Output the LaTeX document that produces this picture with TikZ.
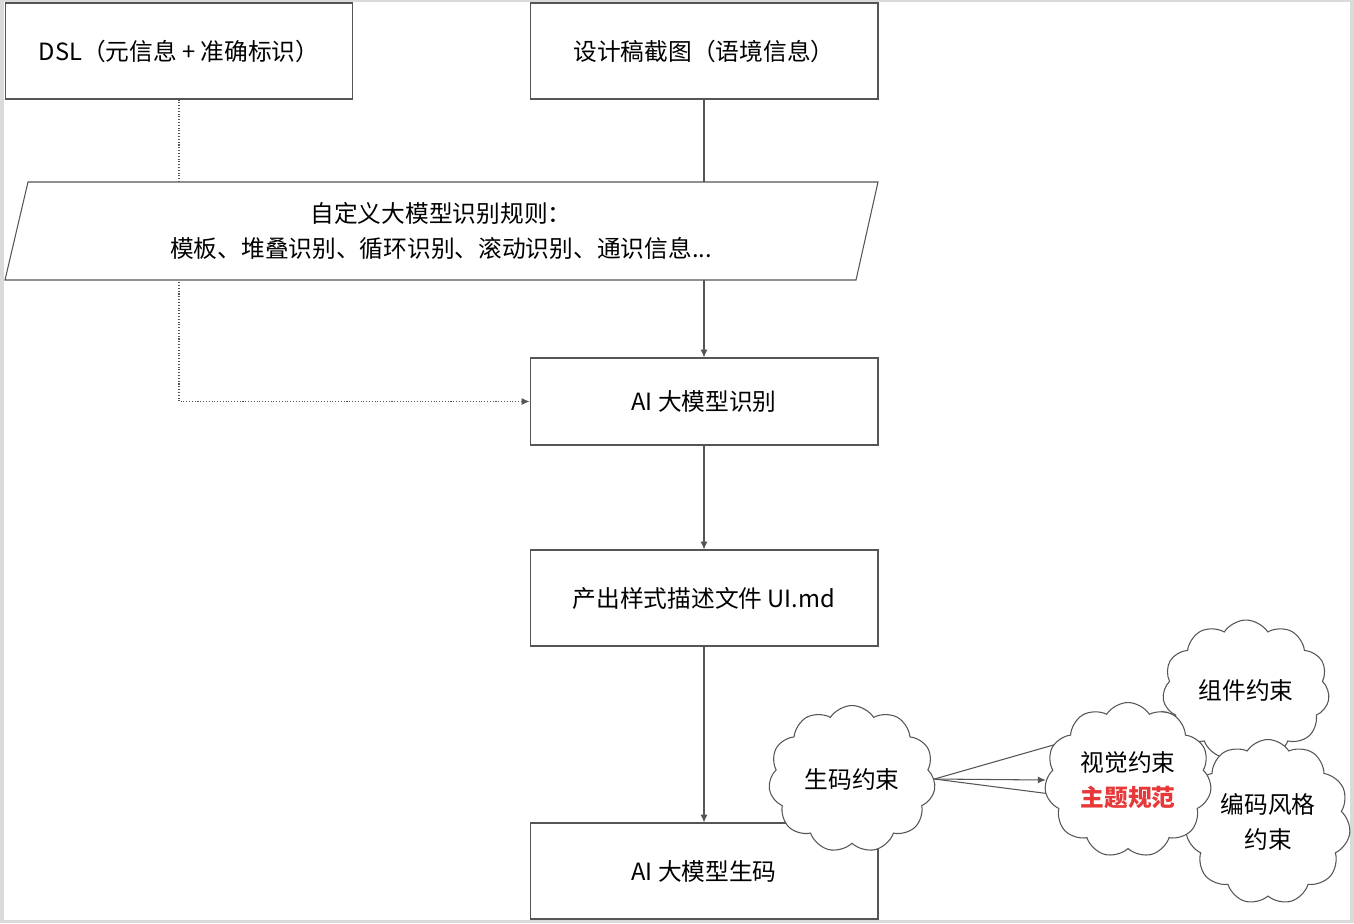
\documentclass[tikz,border=0pt]{standalone}
\usepackage{fontspec}
\setmainfont{Noto Sans CJK SC}
\usepackage{tikz}
\usetikzlibrary{shapes.symbols}
\usetikzlibrary{arrows.meta}
\definecolor{framegray}{HTML}{DADADA}
\definecolor{linegray}{HTML}{555555}
\definecolor{themered}{HTML}{E8393A}

\begin{document}
\begin{tikzpicture}[x=0.02cm,y=-0.02cm,
    font=\fontsize{13.5}{19.7}\selectfont,
    box/.style={draw=linegray,line width=0.6pt,minimum width=6.96cm,minimum height=1.92cm},
    flow/.style={draw=linegray,line width=0.6pt,-{Latex[length=4.5pt,width=4pt]}},
    puff/.style={cloud,cloud puffs=11,cloud puff arc=115,cloud ignores aspect,
      draw=linegray,fill=white,line width=0.6pt,align=center,inner sep=0pt}]
    % frame
    \fill[framegray] (0,0) rectangle (1354,923);
    \fill[white] (4,2) rectangle (1350,920);

    \node[box] (dsl) at (179,51) {DSL（元信息 + 准确标识）};
    \node[box] (design) at (704,51) {设计稿截图（语境信息）};
    \node[box,minimum height=1.74cm] (recog) at (704,401.5) {AI 大模型识别};
    \node[box] (spec) at (704,598) {产出样式描述文件 UI.md};
    \node[box] (gen) at (704,871) {AI 大模型生码};

    \draw[flow,densely dotted] (dsl.south) |- (recog.west);
    \draw[flow] (design.south) -- (recog.north);

    % rules, drawn over both connectors
    \draw[linegray,line width=0.6pt,fill=white]
      (28,182) -- (878,182) -- (856,280) -- (5,280) -- cycle;
    \node[align=center] (rules) at (441,231)
      {自定义大模型识别规则：\\模板、堆叠识别、循环识别、滚动识别、通识信息...};

    \draw[flow] (recog.south) -- (spec.north);
    \draw[flow] (spec.south) -- (gen.north);

    % constraints
    \node[puff,minimum width=3.34cm,minimum height=2.94cm] (genrule) at (852,779) {生码约束};
    \node[puff,minimum width=3.34cm,minimum height=2.8cm] (comprule) at (1246,690) {组件约束};
    \node[puff,minimum width=3.3cm,minimum height=3.3cm] (coderule) at (1268,822) {编码风格\\约束};
    \draw[flow] (genrule.east) -- (comprule);
    \draw[flow] (genrule.east) -- (coderule);
    \node[puff,minimum width=3.34cm,minimum height=3.1cm] (visrule) at (1128,780)
      {视觉约束\\{\bfseries\color{themered}主题规范}};
    \draw[flow] (genrule.east) -- (visrule.west);
\end{tikzpicture}
\end{document}
